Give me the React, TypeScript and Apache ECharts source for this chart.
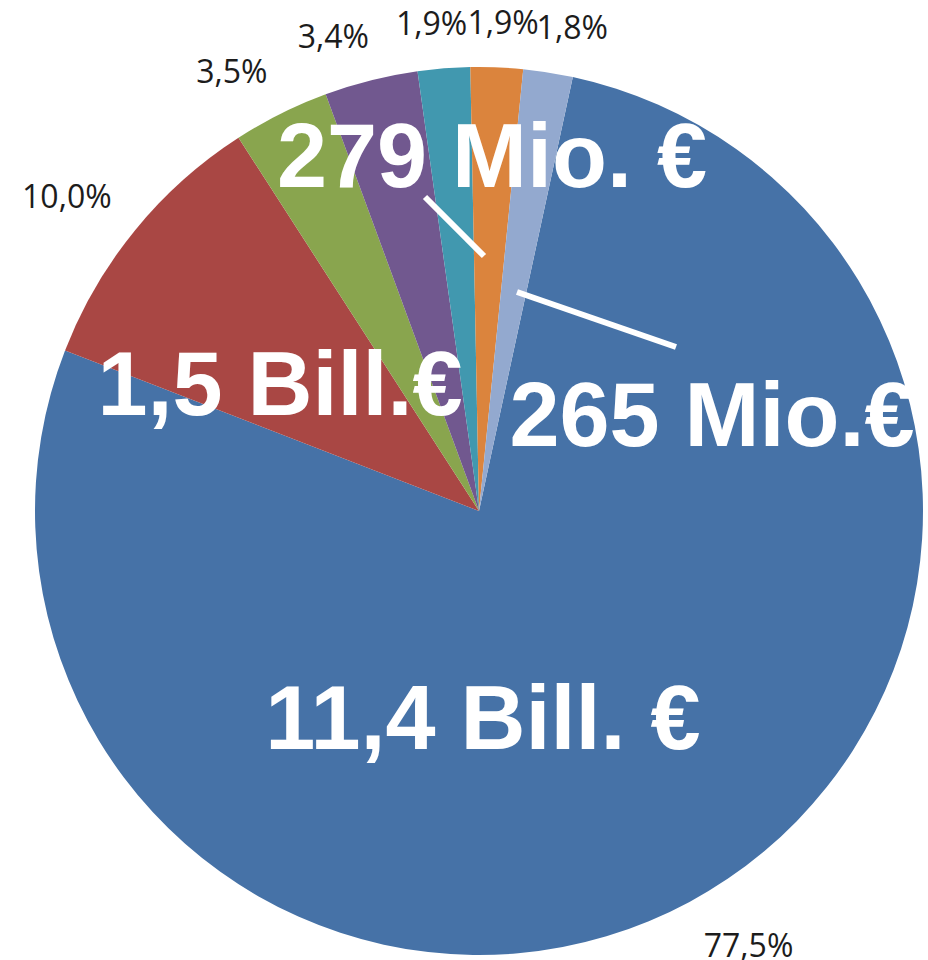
import React, { useEffect, useRef } from "react";
import * as echarts from "echarts";

const categories = ["Anteil 1", "Anteil 2", "Anteil 3", "Anteil 4", "Anteil 5", "Anteil 6", "Anteil 7"];
const shares = [77.5, 10.0, 3.5, 3.4, 1.9, 1.9, 1.8];
const sliceColors = ["#4672A7", "#A94744", "#89A54E", "#71588F", "#4198AF", "#DB843D", "#93A9CF"];
const amountLabels = ["11,4 Bill. €", "1,5 Bill.€", "279 Mio. €", "265 Mio.€"];

export default function App() {
  const ref = useRef<HTMLDivElement>(null);

  useEffect(() => {
    document.body.style.margin = "0";
    if (!ref.current) return;
    const chart = echarts.init(ref.current, undefined, { renderer: "svg" });
    const clamp = (v: number) => Math.max(-1, Math.min(1, v));

    const bigText = (text: string, x: number, y: number) => ({
      type: "text",
      x,
      y,
      z: 10,
      silent: true,
      style: {
        text,
        fill: "#ffffff",
        font: 'bold 90px "Liberation Sans", Arial, sans-serif',
        textAlign: "center",
        textVerticalAlign: "middle",
      },
    });

    chart.setOption({
      animation: false,
      backgroundColor: "#ffffff",
      series: [
        {
          type: "pie",
          center: [479, 511],
          radius: 444,
          startAngle: 77.8,
          clockwise: true,
          avoidLabelOverlap: false,
          silent: true,
          emphasis: { disabled: true },
          label: {
            show: true,
            position: "outside",
            formatter: (p: any) => p.value.toFixed(1).replace(".", ",") + "%",
            fontFamily: '"Open Sans", "Noto Sans", sans-serif',
            fontSize: 32,
            color: "#1c1c1c",
          },
          labelLine: {
            show: true,
            length: 30,
            length2: 0,
            lineStyle: { opacity: 0, width: 0 },
          },
          labelLayout: (p: any) => {
            const pts = p.labelLinePoints;
            if (!pts || pts.length < 2) return {};
            const x0 = pts[0][0], y0 = pts[0][1], x1 = pts[1][0], y1 = pts[1][1];
            const len = Math.hypot(x1 - x0, y1 - y0) || 1;
            const dx = (x1 - x0) / len;
            const dy = (y1 - y0) / len;
            const w = p.labelRect.width;
            const h = p.labelRect.height;
            return {
              x: x1 + (w / 2) * clamp(3.5 * dx),
              y: y1 + (h / 2) * clamp(2 * dy),
              align: "center",
              verticalAlign: "middle",
            };
          },
          data: categories.map((name, i) => ({
            name,
            value: shares[i],
            itemStyle: { color: sliceColors[i] },
          })),
        },
      ],
      graphic: [
        {
          type: "line",
          z: 10,
          silent: true,
          shape: { x1: 425, y1: 197, x2: 484, y2: 256 },
          style: { stroke: "#ffffff", lineWidth: 6 },
        },
        {
          type: "line",
          z: 10,
          silent: true,
          shape: { x1: 517, y1: 292, x2: 676, y2: 347 },
          style: { stroke: "#ffffff", lineWidth: 6 },
        },
        bigText(amountLabels[0], 483, 718),
        bigText(amountLabels[1], 280, 384),
        bigText(amountLabels[2], 492, 156),
        bigText(amountLabels[3], 712, 415),
      ],
    });

    return () => chart.dispose();
  }, []);

  return <div ref={ref} style={{ width: 928, height: 960 }} />;
}
